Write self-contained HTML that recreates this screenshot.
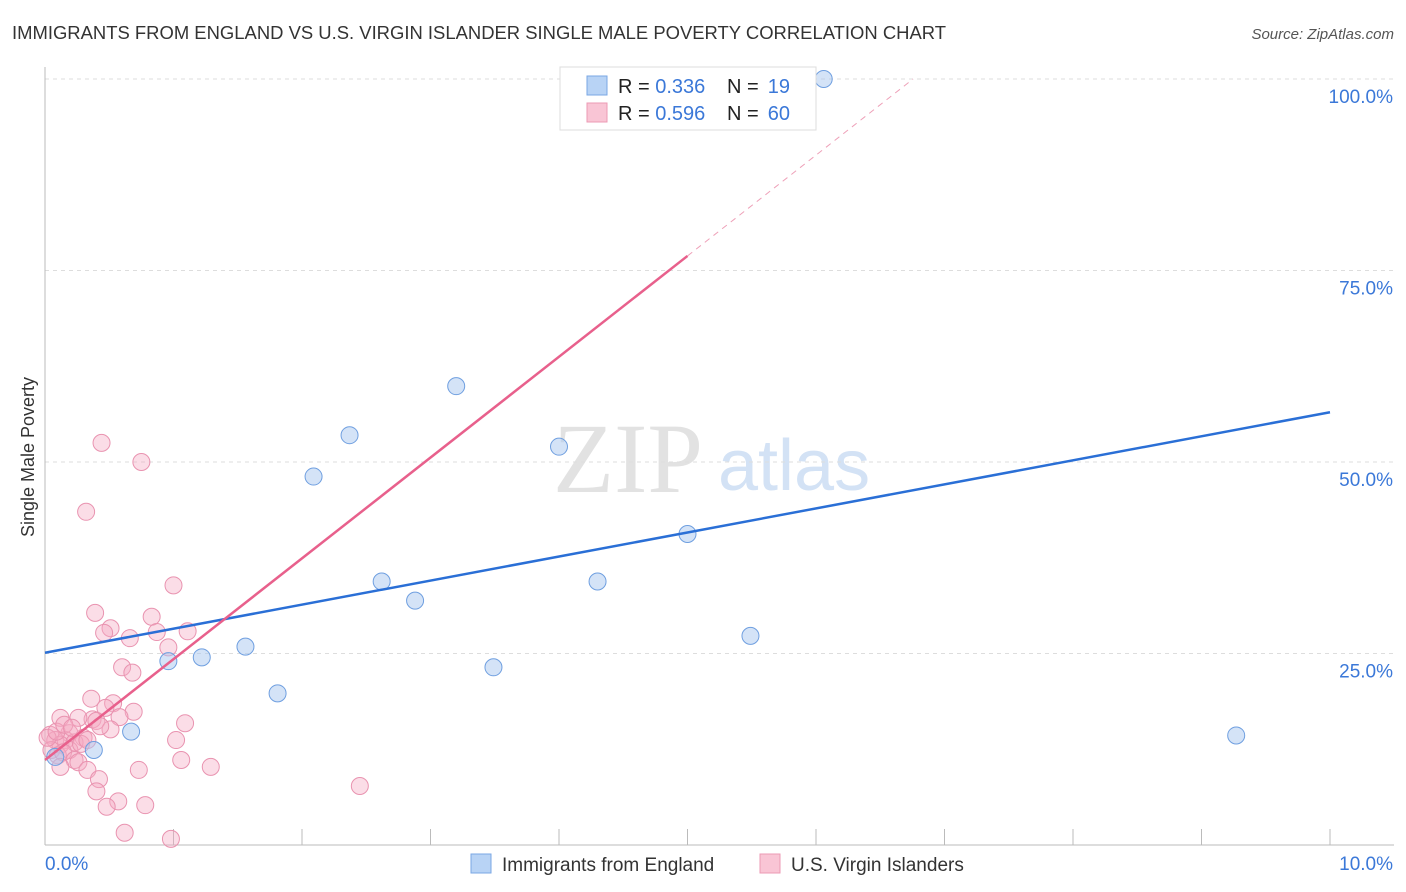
<!DOCTYPE html>
<html><head><meta charset="utf-8"><style>
body{margin:0;background:#fff;font-family:"Liberation Sans",sans-serif;}
#wrap{position:relative;width:1406px;height:892px;overflow:hidden}
</style></head><body><div id="wrap">
<svg id="svg" width="1406" height="892" xmlns="http://www.w3.org/2000/svg">
<text x="12" y="39" font-size="18" textLength="934" lengthAdjust="spacingAndGlyphs" fill="#333">IMMIGRANTS FROM ENGLAND VS U.S. VIRGIN ISLANDER SINGLE MALE POVERTY CORRELATION CHART</text>
<text x="1394" y="39" font-size="15" fill="#555" font-style="italic" text-anchor="end">Source: ZipAtlas.com</text>
<text transform="translate(34,457) rotate(-90)" font-size="18" fill="#333" text-anchor="middle">Single Male Poverty</text>
<text x="553" y="492" font-size="100" fill="#e2e2e2" font-family="Liberation Serif,serif">ZIP</text>
<text x="718" y="490" font-size="72" fill="#d3e2f5">atlas</text>
<g id="grid"></g><g id="axes"></g><g id="marks"></g>
<g>
<rect x="560" y="67" width="256" height="63" fill="#fff" stroke="#ddd"/>
<rect x="587" y="76" width="20" height="19" fill="#b8d3f5" stroke="#7aa7e4"/>
<rect x="587" y="103" width="20" height="19" fill="#f9c5d5" stroke="#ec9ab4"/>
<text x="618" y="93" font-size="20" fill="#222">R = <tspan fill="#3b78d8">0.336</tspan></text>
<text x="727" y="93" font-size="20" fill="#222">N =</text>
<text x="790" y="93" font-size="20" fill="#3b78d8" text-anchor="end">19</text>
<text x="618" y="120" font-size="20" fill="#222">R = <tspan fill="#3b78d8">0.596</tspan></text>
<text x="727" y="120" font-size="20" fill="#222">N =</text>
<text x="790" y="120" font-size="20" fill="#3b78d8" text-anchor="end">60</text>
</g>
<g>
<rect x="471" y="854" width="20" height="19" fill="#b8d3f5" stroke="#7aa7e4"/>
<text x="502" y="871" font-size="19" fill="#333">Immigrants from England</text>
<rect x="760" y="854" width="20" height="19" fill="#f9c5d5" stroke="#ec9ab4"/>
<text x="791" y="871" font-size="19" fill="#333">U.S. Virgin Islanders</text>
</g>
</svg></div>
<script>
const blueX=[6.06,3.20,2.37,4.00,2.09,5.00,2.62,4.30,2.88,5.49,1.56,1.22,0.96,3.49,1.81,9.27,0.67,0.38,0.08];
const blueY=[100,59.9,53.5,52.0,48.1,40.6,34.4,34.4,31.9,27.3,25.9,24.5,24.0,23.2,19.8,14.3,14.8,12.4,11.5];
const pinkX=[0.44,0.75,0.32,1.00,0.39,0.83,0.51,0.46,0.87,1.11,0.66,0.96,0.60,0.68,0.36,0.53,0.47,0.69,0.58,0.37,0.40,1.09,0.12,0.26,0.51,1.02,0.19,0.04,0.08,0.16,0.30,0.12,0.23,0.05,0.19,0.28,0.10,0.14,0.23,0.26,0.12,0.33,1.06,0.73,1.29,0.42,0.40,0.57,0.78,0.48,0.62,0.98,2.45,4.58,0.02,0.09,0.33,0.15,0.21,0.43];
const pinkY=[52.5,50.0,43.5,33.9,30.3,29.8,28.3,27.7,27.8,27.9,27.0,25.8,23.2,22.5,19.1,18.5,17.9,17.4,16.7,16.4,16.2,15.9,16.6,16.6,15.1,13.7,14.6,14.4,13.7,13.7,14.0,13.1,13.4,12.4,12.4,13.2,11.7,12.1,11.1,10.8,10.2,9.8,11.1,9.8,10.2,8.6,7.0,5.7,5.2,5.0,1.6,0.8,7.7,100,14.0,14.8,13.7,15.7,15.3,15.5];
const blueTrend=[25.1,56.5];   // y at x=0 and x=10
const pinkTrend=[11.1,13.16];  // intercept, slope
const pinkSolidEnd=5.0;
const yTicks=[25,50,75,100];
const xTickLabels=["0.0%","10.0%"];
const NS="http://www.w3.org/2000/svg";
const sx=v=>45+v*128.5, sy=v=>845-v*7.66;
function mk(t,a,p){const e=document.createElementNS(NS,t);for(const k in a)e.setAttribute(k,a[k]);p.appendChild(e);return e;}
const grid=document.getElementById('grid'),axes=document.getElementById('axes'),marks=document.getElementById('marks');
yTicks.forEach(v=>{
 const l=mk('line',{x1:45,x2:1394,y1:sy(v),y2:sy(v),stroke:'#ddd','stroke-dasharray':'4,4'},grid);
 
 
 const t=mk('text',{x:1393,y:sy(v)+24,'font-size':19,fill:'#3b78d8','text-anchor':'end'},axes);
 t.textContent=v.toFixed(1)+'%';
 
 
});
let a=mk('line',{x1:45,x2:45,y1:67,y2:845,stroke:'#bbb'},axes);


a=mk('line',{x1:45,x2:1394,y1:845,y2:845,stroke:'#bbb'},axes);


for(let i=1;i<=10;i++){const t=mk('line',{x1:sx(i),x2:sx(i),y1:829,y2:845,stroke:'#bbb'},axes);
 
 }
let t=mk('text',{x:45,y:870,'font-size':19,fill:'#3b78d8'},axes);t.textContent=xTickLabels[0];


t=mk('text',{x:1393,y:870,'font-size':19,fill:'#3b78d8','text-anchor':'end'},axes);t.textContent=xTickLabels[1];


pinkX.forEach((x,i)=>{const c=mk('circle',{cx:sx(x),cy:sy(pinkY[i]),r:8.5,fill:'rgba(245,170,195,0.4)',stroke:'#e993b0','stroke-width':1},marks);
 
 });
blueX.forEach((x,i)=>{const c=mk('circle',{cx:sx(x),cy:sy(blueY[i]),r:8.5,fill:'rgba(170,200,240,0.5)',stroke:'#6f9fe0','stroke-width':1},marks);
 
 });
let l=mk('line',{x1:sx(0),y1:sy(blueTrend[0]),x2:sx(10),y2:sy(blueTrend[1]),stroke:'#2a6fd6','stroke-width':2.5},marks);


l=mk('line',{x1:sx(0),y1:sy(pinkTrend[0]),x2:sx(pinkSolidEnd),y2:sy(pinkTrend[0]+pinkTrend[1]*pinkSolidEnd),stroke:'#e8608c','stroke-width':2.5},marks);


const xe=(100-pinkTrend[0])/pinkTrend[1];
l=mk('line',{x1:sx(pinkSolidEnd),y1:sy(pinkTrend[0]+pinkTrend[1]*pinkSolidEnd),x2:sx(xe),y2:sy(100),stroke:'#eea0b8','stroke-width':1,'stroke-dasharray':'6,5'},marks);


</script></body></html>
